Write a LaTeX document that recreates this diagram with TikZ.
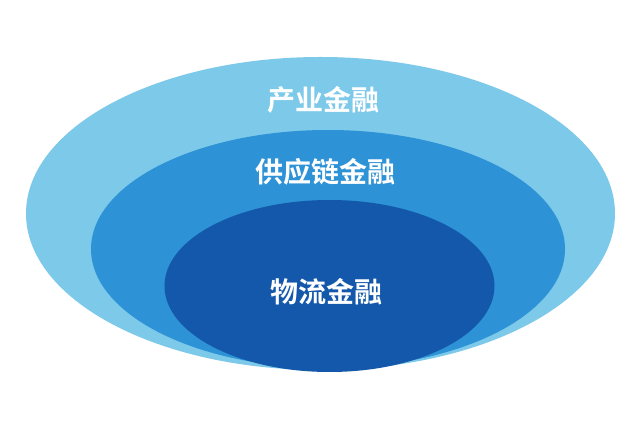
\documentclass[tikz,border=0pt]{standalone}
\usepackage{fontspec}
\newfontfamily\cjk{Noto Sans CJK SC}[BoldFont={* Bold}]
\usepackage{tikz}
\usetikzlibrary{positioning}
\definecolor{outerblue}{RGB}{125,201,234}
\definecolor{midblue}{RGB}{45,146,214}
\definecolor{innerblue}{RGB}{19,88,170}
\tikzset{lbl/.style={text=white,font=\cjk\bfseries\fontsize{28}{32}\selectfont}}
\begin{document}
\begin{tikzpicture}[x=1pt,y=-1pt]
\useasboundingbox (0,0) rectangle (640,427);
\fill[white] (0,0) rectangle (640,427);
\fill[outerblue] (320.5,213.5) ellipse [x radius=294.5, y radius=156.5];
\fill[midblue] (328,249) ellipse [x radius=237, y radius=119];
\fill[innerblue] (329.5,286) ellipse [x radius=165, y radius=86];
\node[lbl] (ind) at (323,100) {产业金融};
\node[lbl] (sup) at (325,172) {供应链金融};
\node[lbl] (log) at (326,292) {物流金融};
\end{tikzpicture}
\end{document}
